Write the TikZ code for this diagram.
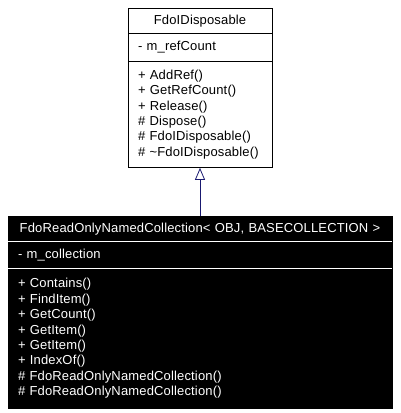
\documentclass[tikz,border=0pt]{standalone}
\usepackage{fontspec}
\setmainfont[LetterSpace=1.2]{Liberation Sans}
\usetikzlibrary{arrows.meta}

\definecolor{edgeblue}{RGB}{25,25,112}

\begin{document}
\begin{tikzpicture}[x=1pt, y=1pt, line width=0.8pt,
    every node/.style={font=\fontsize{13}{15.4}\selectfont},
    part/.style={rectangle, draw, anchor=north, inner xsep=10pt, inner ysep=0pt, minimum height=#1},
    topbox/.style={part=#1, text width=124pt},
    lowbox/.style={part=#1, text width=364pt, fill=black, text=white}]
    \useasboundingbox (0,0) rectangle (400,-413);

    % Draw nodes
    \node[topbox=25pt, align=center] (basetitle) at (200,-8) {FdoIDisposable};
    \node[topbox=28pt, align=left] (baseattr) at (200,-33) {- m\_refCount};
    \node[topbox=106pt, align=left] (baseops) at (200,-61)
        {+ AddRef()\\+ GetRefCount()\\+ Release()\\\# Dispose()\\\# FdoIDisposable()\\\# \textasciitilde FdoIDisposable()};

    \node[lowbox=25pt, align=center] (colltitle) at (200,-216) {FdoReadOnlyNamedCollection< OBJ, BASECOLLECTION >};
    \node[lowbox=27pt, align=left] (collattr) at (200,-241) {- m\_collection};
    \node[lowbox=140pt, align=left] (collops) at (200,-268)
        {+ Contains()\\+ FindItem()\\+ GetCount()\\+ GetItem()\\+ GetItem()\\+ IndexOf()\\\# FdoReadOnlyNamedCollection()\\\# FdoReadOnlyNamedCollection()};

    % Separators
    \draw[white] (colltitle.south west) -- (colltitle.south east);
    \draw[white] (collattr.south west) -- (collattr.south east);

    % Draw connections
    \draw[edgeblue, -{Triangle[open, length=12pt, width=10pt, fill=white]}] (colltitle.north) -- (baseops.south);
\end{tikzpicture}
\end{document}
